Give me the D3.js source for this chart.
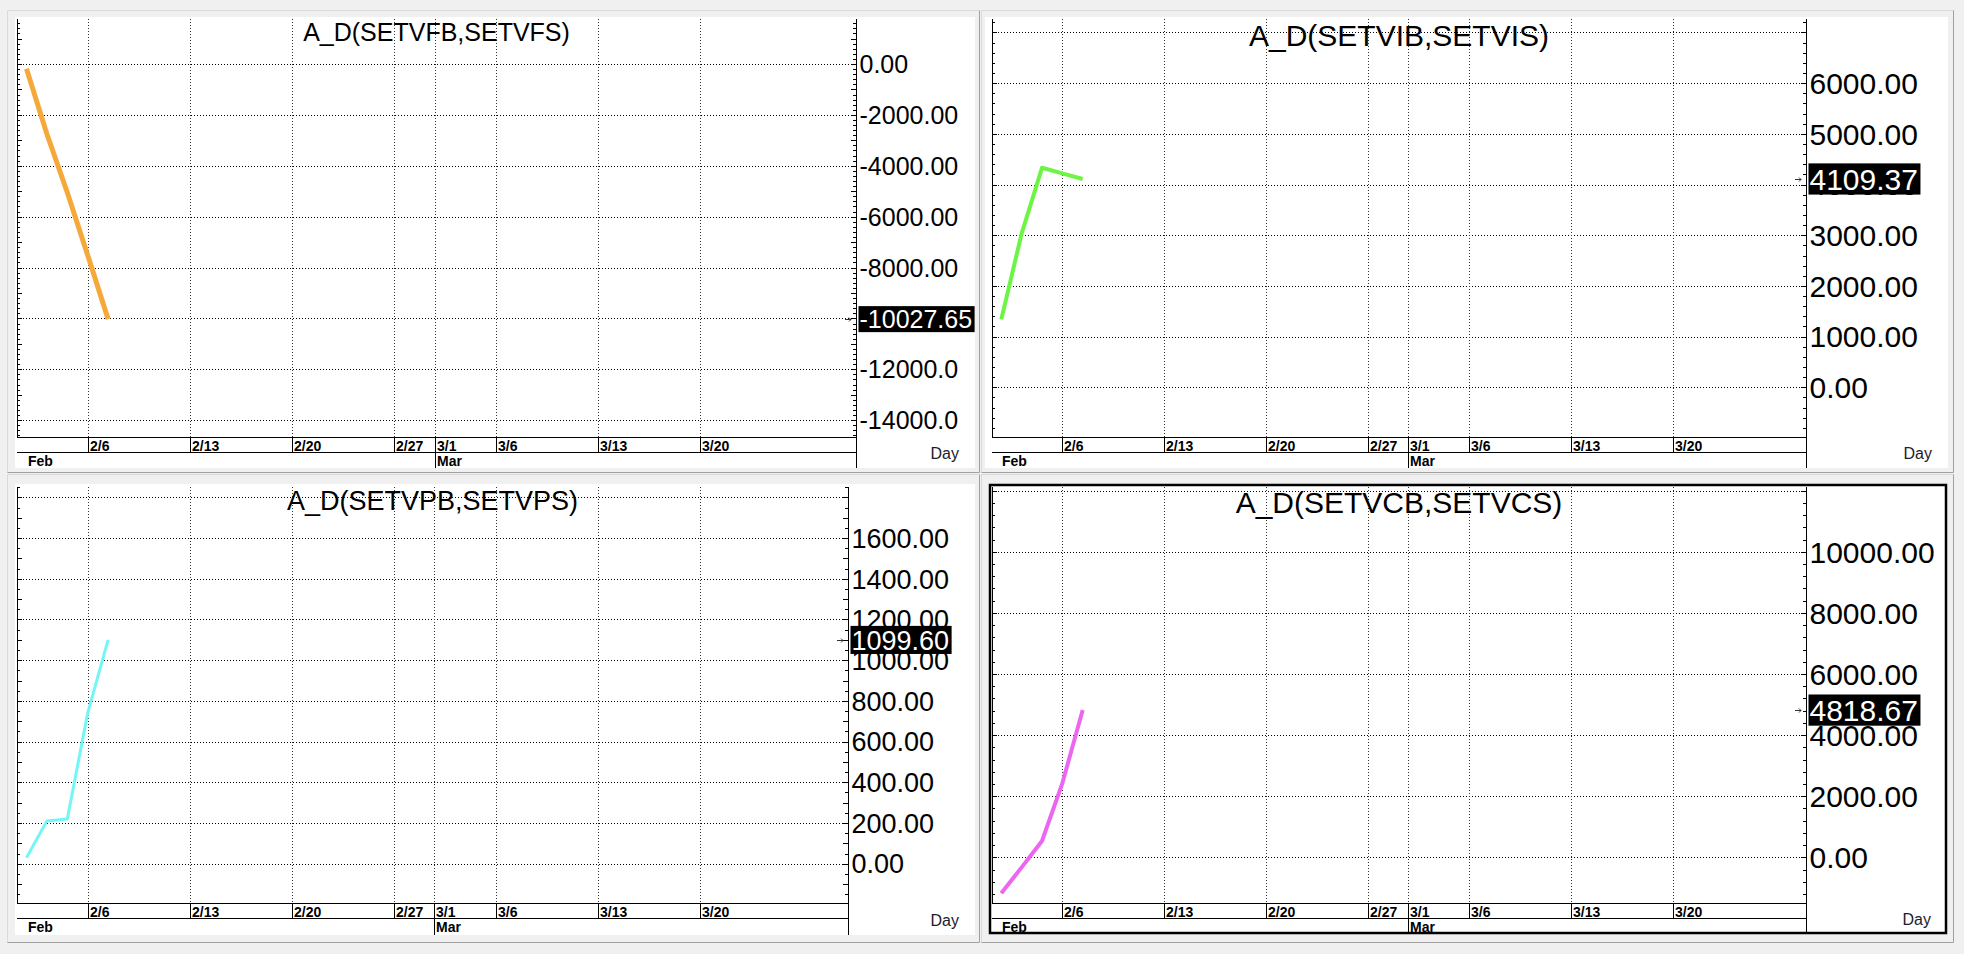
<!DOCTYPE html>
<html><head><meta charset="utf-8">
<script src="https://cdn.jsdelivr.net/npm/d3@7"></script>
<style>html,body{margin:0;padding:0;background:#f0f0f0;overflow:hidden}svg{display:block}</style>
</head><body><svg id="c" width="1964" height="954"></svg>
<script>
// ---------- data ----------
const dates = ["2023-02-01","2023-02-02","2023-02-03","2023-02-06","2023-02-07"];
const fbValues = [-190, -2750, -5050, -7520, -10027.65];
const ibValues = [1340, 3030, 4330, 4220, 4109.37];
const pbValues = [30, 210, 220, 740, 1099.60];
const cbValues = [-1180, -330, 533, 2422, 4818.67];

const titles = ["A_D(SETVFB,SETVFS)","A_D(SETVIB,SETVIS)","A_D(SETVPB,SETVPS)","A_D(SETVCB,SETVCS)"];

const fbGrid = [0,-2000,-4000,-6000,-8000,-10000,-12000,-14000];
const fbLabels = ["0.00","-2000.00","-4000.00","-6000.00","-8000.00","-10000.0","-12000.0","-14000.0"];
const ibGrid = [0,1000,2000,3000,4000,5000,6000,7000];
const ibLabels = ["0.00","1000.00","2000.00","3000.00","4000.00","5000.00","6000.00",""];
const pbGrid = [0,200,400,600,800,1000,1200,1400,1600,1800];
const pbLabels = ["0.00","200.00","400.00","600.00","800.00","1000.00","1200.00","1400.00","1600.00",""];
const cbGrid = [0,2000,4000,6000,8000,10000,12000];
const cbLabels = ["0.00","2000.00","4000.00","6000.00","8000.00","10000.00",""];

const tickDates = ["2023-02-06","2023-02-13","2023-02-20","2023-02-27","2023-03-01","2023-03-06","2023-03-13","2023-03-20"];
const tickLabels = ["2/6","2/13","2/20","2/27","3/1","3/6","3/13","3/20"];
const monthDates = ["2023-02-01","2023-03-01"];
const monthLabels = ["Feb","Mar"];
const unitLabel = "Day";

// trading-day index (weekdays since Feb 1, 2023)
function tIdx(s){
  const base = new Date("2023-02-01T00:00:00Z"), d = new Date(s+"T00:00:00Z");
  let n = 0;
  for (let t = new Date(base); t < d; t.setUTCDate(t.getUTCDate()+1)) {
    const w = t.getUTCDay(); if (w !== 0 && w !== 6) n++;
  }
  return n;
}

// ---------- layout ----------
const panels = [
  {title:titles[0], values:fbValues, grid:fbGrid, labels:fbLabels, minor:200, mid:1000, color:"#F5A93A", lw:5, fs:25,
   cell:[7,10,979,472], white:[15,17,975,468], plot:{l:17,t:19,r:856,b:437,s:452}, xd:[-0.466,40.66], yd:[-14660,1768]},
  {title:titles[1], values:ibValues, grid:ibGrid, labels:ibLabels, minor:200, mid:500, color:"#6CF545", lw:4, fs:30,
   cell:[981,10,1953,472], white:[985,17,1948,468], plot:{l:992,t:19,r:1806,b:437,s:452}, xd:[-0.456,39.54], yd:[-980,7265]},
  {title:titles[2], values:pbValues, grid:pbGrid, labels:pbLabels, minor:50, mid:100, color:"#72F6F6", lw:3, fs:27,
   cell:[7,474,979,942], white:[15,484,975,935], plot:{l:17,t:487,r:848,b:903,s:918}, xd:[-0.466,40.27], yd:[-193,1851]},
  {title:titles[3], values:cbValues, grid:cbGrid, labels:cbLabels, minor:400, mid:1000, color:"#EC66F0", lw:4, fs:30, sel:true,
   cell:[981,474,1953,942], white:[989,484,1947,934], plot:{l:992,t:487,r:1806,b:903,s:918}, xd:[-0.456,39.54], yd:[-1496,12121]}
];

const svg = d3.select("#c");
const FONT = "'Liberation Sans', Arial, sans-serif";
const fmt = d3.formatLocale({decimal:".", thousands:",", grouping:[3], currency:["",""], minus:"-"}).format(".2f");

panels.forEach(p => {
  const g = svg.append("g");
  const [cx0,cy0,cx1,cy1] = p.cell;
  g.append("path").attr("d",`M${cx0+0.5},${cy1+0.5}V${cy0+0.5}H${cx1+0.5}`).attr("fill","none").attr("stroke","#dadada");
  g.append("path").attr("d",`M${cx0+0.5},${cy1+0.5}H${cx1+0.5}V${cy0+0.5}`).attr("fill","none").attr("stroke","#a0a0a0");
  const [wx0,wy0,wx1,wy1] = p.white;
  g.append("rect").attr("x",wx0).attr("y",wy0).attr("width",wx1-wx0).attr("height",wy1-wy0).attr("fill","#fff");
  if (p.sel) {
    g.append("rect").attr("x",wx0+1).attr("y",wy0+1).attr("width",wx1-wx0-2).attr("height",wy1-wy0-2)
      .attr("fill","none").attr("stroke","#000").attr("stroke-width",2.5);
  }
  const P = p.plot;
  const x = d3.scaleLinear().domain(p.xd).range([P.l, P.r]);
  const y = d3.scaleLinear().domain(p.yd).range([P.b, P.t]);

  // horizontal grid
  g.append("g").selectAll("line").data(p.grid).join("line")
    .attr("x1",P.l).attr("x2",P.r)
    .attr("y1",d=>Math.round(y(d))+0.5).attr("y2",d=>Math.round(y(d))+0.5)
    .attr("stroke","#000").attr("stroke-dasharray","1,2").attr("shape-rendering","crispEdges");
  // vertical grid
  g.append("g").selectAll("line").data(tickDates).join("line")
    .attr("x1",d=>Math.round(x(tIdx(d)))+0.5).attr("x2",d=>Math.round(x(tIdx(d)))+0.5)
    .attr("y1",P.t).attr("y2",P.b)
    .attr("stroke","#333").attr("stroke-dasharray","1,2").attr("shape-rendering","crispEdges");

  // minor ticks on both y axes
  const lo = Math.ceil(p.yd[0]/p.minor)*p.minor, hi = Math.floor(p.yd[1]/p.minor)*p.minor;
  const mt = d3.range(lo, hi+1e-6, p.minor);
  const tl = d => (Math.abs(d % p.mid) < 1e-6) ? 5 : 3;
  g.append("g").selectAll("line").data(mt).join("line")
    .attr("x1",P.l).attr("x2",d=>P.l+tl(d))
    .attr("y1",d=>Math.round(y(d))+0.5).attr("y2",d=>Math.round(y(d))+0.5)
    .attr("stroke","#000").attr("shape-rendering","crispEdges");
  g.append("g").selectAll("line").data(mt).join("line")
    .attr("x1",P.r).attr("x2",d=>P.r-tl(d))
    .attr("y1",d=>Math.round(y(d))+0.5).attr("y2",d=>Math.round(y(d))+0.5)
    .attr("stroke","#000").attr("shape-rendering","crispEdges");

  const ln = (x1,y1,x2,y2,c="#000") => g.append("line").attr("x1",x1).attr("y1",y1).attr("x2",x2).attr("y2",y2)
     .attr("stroke",c).attr("shape-rendering","crispEdges");
  ln(P.l+0.5,P.t,P.l+0.5,P.b+0.5);
  ln(P.r+0.5,P.t,P.r+0.5,wy1);
  ln(P.l,P.b+0.5,P.r,P.b+0.5);
  ln(P.l,P.s+0.5,P.r,P.s+0.5);

  tickDates.forEach((d,i) => {
    const xx = Math.round(x(tIdx(d)))+0.5;
    ln(xx,P.b,xx,P.s);
    g.append("text").attr("x",xx+1.5).attr("y",P.s-1.5).text(tickLabels[i])
      .attr("font-family",FONT).attr("font-weight","bold").attr("font-size",14).attr("fill","#000");
  });
  monthDates.forEach((d,i) => {
    const xx = Math.round(x(tIdx(d)))+0.5;
    if (i > 0) ln(xx,P.b,xx,wy1);
    g.append("text").attr("x",xx+(i>0?1.5:0.5)).attr("y",P.s+14).text(monthLabels[i])
      .attr("font-family",FONT).attr("font-weight","bold").attr("font-size",14).attr("fill","#000");
  });

  g.append("g").selectAll("text").data(p.grid.map((v,i)=>({v,l:p.labels[i]})).filter(o=>o.l)).join("text")
    .attr("x",P.r+3.5).attr("y",o=>y(o.v)+0.36*p.fs).text(o=>o.l)
    .attr("font-family",FONT).attr("font-size",p.fs).attr("fill","#000");

  g.append("text").attr("x",(P.l+P.r)/2).attr("y",wy0+p.fs*0.95).attr("text-anchor","middle").text(p.title)
    .attr("font-family",FONT).attr("font-size",p.fs).attr("fill","#000");

  g.append("text").attr("x",wx1-16).attr("y",wy1-9.5).attr("text-anchor","end").text(unitLabel)
    .attr("font-family",FONT).attr("font-size",16).attr("fill","#1c1c2c");

  const pts = dates.map((d,i)=>[tIdx(d), p.values[i]]);
  g.append("path").datum(pts)
    .attr("d", d3.line().x(d=>x(d[0])).y(d=>y(d[1])))
    .attr("fill","none").attr("stroke",p.color).attr("stroke-width",p.lw)
    .attr("stroke-linejoin","round").attr("stroke-linecap","butt");

  const last = p.values[p.values.length-1];
  const ly = y(last);
  g.append("path").attr("d",`M${P.r-11},${Math.round(ly)+0.5}H${P.r-5}M${P.r-7},${Math.round(ly)-1.5}L${P.r-5},${Math.round(ly)+0.5}L${P.r-7},${Math.round(ly)+2.5}`)
    .attr("fill","none").attr("stroke","#333").attr("stroke-width",1);
  const box = g.append("rect").attr("fill","#000");
  const t = g.append("text").attr("x",P.r+3.5).attr("y",ly+0.36*p.fs).text(fmt(last))
    .attr("font-family",FONT).attr("font-size",p.fs).attr("fill","#fff");
  const w = t.node().getComputedTextLength();
  box.attr("x",P.r+2.5).attr("y",ly-p.fs*0.52).attr("width",w+3.5).attr("height",p.fs*1.04);
});
</script></body></html>
